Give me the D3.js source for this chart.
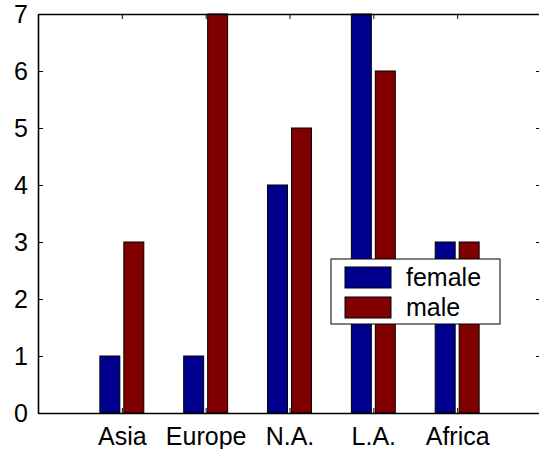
<!DOCTYPE html>
<html>
<head>
<meta charset="utf-8">
<script src="https://cdn.jsdelivr.net/npm/d3@7"></script>
<style>
  body { margin: 0; background: #fff; }
  svg { display: block; }
  .axis path, .axis line { stroke: #000; }
  .axis text { font-family: "Liberation Sans", Arial, sans-serif; font-size: 25px; fill: #000; }
</style>
</head>
<body>
<script>
// data
const regions = ["Asia", "Europe", "N.A.", "L.A.", "Africa"];
const series = ["female", "male"];
const female = [1, 1, 4, 7, 3];
const male = [3, 7, 5, 6, 3];
const yTicks = [0, 1, 2, 3, 4, 5, 6, 7];
const colors = ["#00008f", "#800000"];

const width = 539, height = 449;
const margin = {top: 14, right: -2, bottom: 36, left: 38};

const svg = d3.select("body").append("svg")
    .attr("width", width)
    .attr("height", height);

const x = d3.scaleLinear()
    .domain([0, regions.length + 1])
    .range([margin.left, width - margin.right]);

const y = d3.scaleLinear()
    .domain([0, 7])
    .range([height - margin.bottom, margin.top]);

// offsets of the two bars inside a group, in x units
const inner = d3.scaleBand()
    .domain(series)
    .range([-0.262, 0.262])
    .paddingInner(0.167);

const rows = regions.map((r, i) => ({region: r, pos: i + 1, values: [female[i], male[i]]}));

// bars
const group = svg.append("g").selectAll("g")
    .data(rows)
  .enter().append("g");

group.selectAll("rect")
    .data(d => d.values.map((v, j) => ({pos: d.pos, key: series[j], value: v, j: j})))
  .enter().append("rect")
    .attr("x", d => x(d.pos + inner(d.key)))
    .attr("width", d => x(d.pos + inner(d.key) + inner.bandwidth()) - x(d.pos + inner(d.key)))
    .attr("y", d => y(d.value))
    .attr("height", d => y(0) - y(d.value))
    .attr("fill", d => colors[d.j])
    .attr("stroke", "#000")
    .attr("stroke-width", 1);

// axes (box with inward ticks, MATLAB style)
const xt = rows.map(d => d.pos);

svg.append("g")
    .attr("class", "axis")
    .attr("transform", "translate(0," + y(0) + ")")
    .call(d3.axisBottom(x).tickValues(xt).tickSize(-5).tickSizeOuter(0).tickPadding(14)
      .tickFormat((d, i) => regions[i]))
    .call(g => g.select(".domain").attr("stroke-width", 1.6));

svg.append("g")
    .attr("class", "axis")
    .attr("transform", "translate(0," + y(7) + ")")
    .call(d3.axisTop(x).tickValues(xt).tickSize(-5).tickSizeOuter(0).tickFormat(""))
    .call(g => g.select(".domain").attr("stroke-width", 1.6));

svg.append("g")
    .attr("class", "axis")
    .attr("transform", "translate(" + x(0) + ",0)")
    .call(d3.axisLeft(y).tickValues(yTicks).tickSize(-5).tickSizeOuter(0).tickPadding(10)
      .tickFormat(d3.format("d")))
    .call(g => g.select(".domain").attr("stroke-width", 1.6));

svg.append("g")
    .attr("class", "axis")
    .attr("transform", "translate(" + x(regions.length + 1) + ",0)")
    .call(d3.axisRight(y).tickValues(yTicks).tickSize(-5).tickSizeOuter(0).tickFormat(""))
    .call(g => g.select(".domain").attr("stroke-width", 1.6));

// legend
const legend = svg.append("g").attr("transform", "translate(331,259)");

legend.append("rect")
    .attr("width", 169)
    .attr("height", 65)
    .attr("fill", "#fff")
    .attr("stroke", "#000")
    .attr("stroke-width", 1);

const item = legend.selectAll(".item")
    .data(series)
  .enter().append("g")
    .attr("class", "item")
    .attr("transform", (d, i) => "translate(0," + (8 + i * 30) + ")");

item.append("rect")
    .attr("x", 14)
    .attr("width", 46)
    .attr("height", 21)
    .attr("fill", (d, i) => colors[i])
    .attr("stroke", "#000")
    .attr("stroke-width", 1);

item.append("text")
    .attr("x", 75)
    .attr("y", 19)
    .style("font-family", "Liberation Sans, Arial, sans-serif")
    .style("font-size", "25px")
    .text(d => d);
</script>
</body>
</html>
